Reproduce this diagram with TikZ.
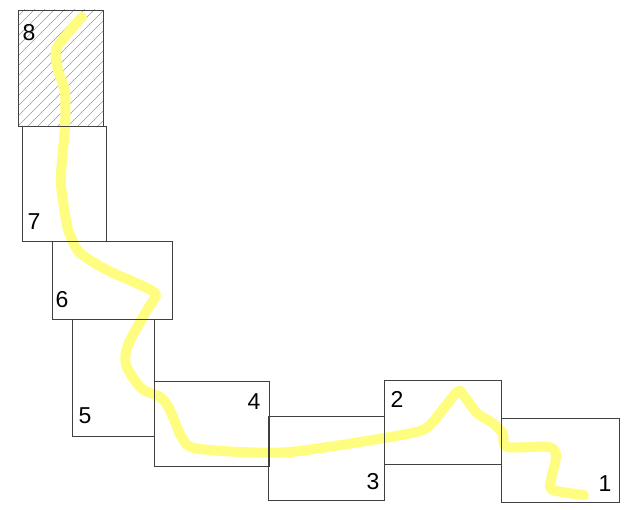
\documentclass[tikz,border=0pt]{standalone}
\usepackage{fontspec}
\setmainfont{Liberation Sans}
\begin{document}
\begin{tikzpicture}[x=1pt,y=-1pt,
  box/.style={draw=black!75, line width=0.8pt, rectangle, inner sep=0pt, anchor=north west},
  lbl/.style={font=\fontsize{23}{23}\selectfont, inner sep=0pt, text=black},
  trail/.style={draw={rgb,255:red,255;green,253;blue,128}, line width=10pt, line cap=round, line join=round}]
\useasboundingbox (0,0) rectangle (630,510);
% hatching of box 8
\begin{scope}
  \clip (18,10) rectangle (103,126);
  \foreach \i in {-130,-120,...,120}{
    \draw[gray!80, line width=0.5pt] (18+\i,126) -- (18+\i+130,-4);
  }
\end{scope}
% yellow trail
\draw[trail] plot[smooth, tension=0.45] coordinates {
 (82,17) (68,33) (56,50) (58,70) (65,92) (65,127) (62,160) (61,185) (66,220) (70,235) (80,253) (107,270) (145,287) (156,295)
 (147,310) (128,345) (126,365) (141,388) (160,397) (169,408) (182,438) (194,448) (240,452) (290,452) (360,442) (416,432) (431,424)
 (457,392) (464,396) (477,413) (494,424) (503,434) (507,447) (549,447) (556,457) (550,487) (562,492) (584,495)};
% boxes
\node[box, minimum width=85pt, minimum height=116pt] (b8) at (18,10) {};
\node[box, minimum width=84pt, minimum height=115pt] (b7) at (22,126) {};
\node[box, minimum width=120pt, minimum height=78pt] (b6) at (52,241) {};
\node[box, minimum width=82pt, minimum height=117pt] (b5) at (72,319) {};
\node[box, minimum width=115pt, minimum height=85pt] (b4) at (154,381) {};
\node[box, minimum width=116pt, minimum height=84pt] (b3) at (268,416) {};
\node[box, minimum width=117pt, minimum height=84pt] (b2) at (384,380) {};
\node[box, minimum width=118pt, minimum height=84pt] (b1) at (501,418) {};
% labels
\node[lbl] (l8) at (29,33) {8};
\node[lbl] (l7) at (34,222) {7};
\node[lbl] (l6) at (62,300) {6};
\node[lbl] (l5) at (85,416) {5};
\node[lbl] (l4) at (254,402) {4};
\node[lbl] (l3) at (373,482) {3};
\node[lbl] (l2) at (397,399) {2};
\node[lbl] (l1) at (605,484) {1};
\end{tikzpicture}
\end{document}
